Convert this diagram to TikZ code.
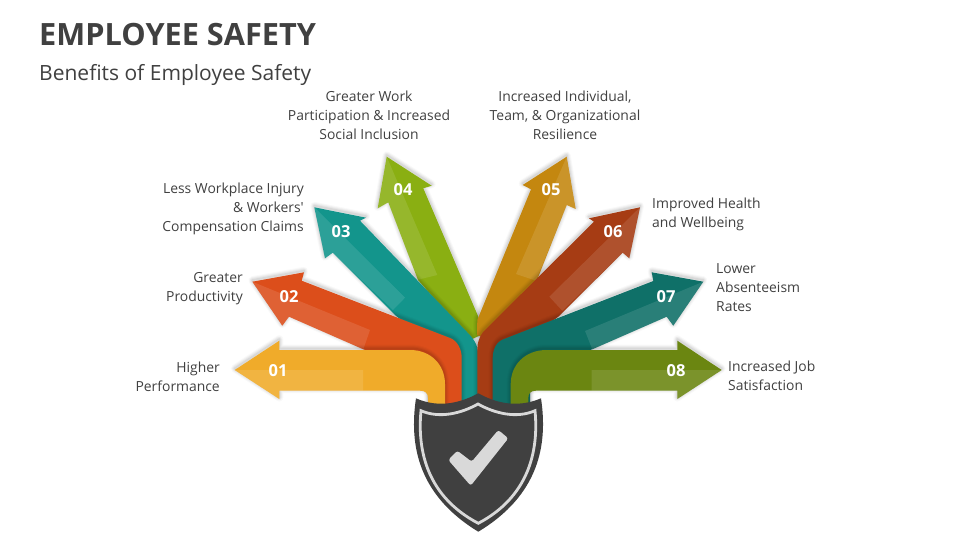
\documentclass[tikz,border=0pt]{standalone}
\usepackage{fontspec}
\setmainfont{Open Sans}
\newfontfamily\plainf{Open Sans}
\newcommand{\arw}[3]{%
  \foreach \w/\o in {8/.025,6/.035,4/.045,2/.06}{\draw[black,opacity=\o,line width=\w pt,line join=round,yshift=1.5pt] #1 -- cycle;}
  \fill[#3] #1 -- cycle;
  \fill[white,opacity=.11] #2 -- cycle;
}
\tikzset{
  lab/.style={inner sep=0pt,text=txt,font=\fontsize{13.9}{19}\selectfont},
  num/.style={inner sep=0pt,text=white,font=\fontsize{16.5}{18}\selectfont\bfseries},
}
\definecolor{txt}{HTML}{404040}
\definecolor{c1}{HTML}{F0AB2A}
\definecolor{c2}{HTML}{DC4E1B}
\definecolor{c3}{HTML}{13958C}
\definecolor{c4}{HTML}{8AAF12}
\definecolor{c5}{HTML}{C4870F}
\definecolor{c6}{HTML}{A63C14}
\definecolor{c7}{HTML}{0F7068}
\definecolor{c8}{HTML}{6B8611}
\definecolor{chk}{HTML}{D9D9D9}
\begin{document}
\begin{tikzpicture}[x=1pt,y=-1pt]
\useasboundingbox (0,0) rectangle (960,540);
\node[anchor=base west,inner sep=0pt,text=txt,font=\fontsize{30.7}{36}\selectfont\bfseries] (title) at (39,46) {EMPLOYEE SAFETY};
\node[anchor=base west,inner sep=0pt,text=txt,font=\fontsize{21}{24}\selectfont] (sub) at (39,80.5) {Benefits of Employee Safety};
% 04, 05
\arw{(386.7,156.7) -- (431.7,185.7) -- (423.3,188.3) -- (478.3,316.7) -- (481,335) -- (470,340) -- (418,280) -- (388.3,202.3) -- (377.7,208.3)}
    {(386.7,156.7) -- (437.3,275) -- (416.7,280) -- (388.3,202.3) -- (377.7,208.3)}{c4}
\arw{(566.7,156.7) -- (575.7,209) -- (566.7,205) -- (536.7,280.7) -- (490,340) -- (477,335) -- (477.3,320) -- (531,189.3) -- (522.7,185)}
    {(566.7,156.7) -- (575.7,209) -- (566.7,205) -- (536,280.7) -- (516,274)}{c5}
% 03, 06
\arw{(314.3,207.3) -- (366,217.7) -- (360,220.7) -- (466.7,331.7) .. controls (474,339) and (478,345) .. (478,354) -- (478,410) -- (450,410) -- (450,360) -- (395,315) -- (332.7,252.7) -- (325,258.3)}
    {(314.3,207.3) -- (405,297.7) -- (393,310) -- (332.7,252.7) -- (325,258.3)}{c3}
\arw{(640,207.3) -- (629.3,258.3) -- (622.7,252.7) -- (558.3,316.7) -- (500,360) -- (500,410) -- (477.3,410) -- (477.3,350) .. controls (477.3,343) and (479,337) .. (483.3,331.7) -- (594,221.7) -- (589,218.3)}
    {(640,207.3) -- (629.3,258.3) -- (622.7,252.7) -- (562.3,310.7) -- (549.3,296.7)}{c6}
% 02, 07
\arw{(252.3,281.7) -- (304,272.3) -- (301.7,280.7) -- (450,338) .. controls (458,341) and (461.7,350) .. (461.7,358) -- (461.7,410) -- (430,410) -- (430,370) -- (363.3,349.3) -- (289,316.7) -- (282.3,325.7)}
    {(252.3,281.7) -- (370,330) -- (363.3,349.3) -- (289,316.7) -- (282.3,325.7)}{c2}
\arw{(703.3,281.7) -- (673.3,325.7) -- (666.7,316.7) -- (592.3,349.3) -- (530,370) -- (530,410) -- (492.7,410) -- (492.7,358) .. controls (492.7,350) and (496,342) .. (503.3,339.3) -- (653.3,281) -- (651.7,272.3)}
    {(703.3,281.7) -- (673.3,325.7) -- (666.7,316.7) -- (592.3,349.3) -- (585,331)}{c7}
% 01, 08
\arw{(234.7,370) -- (279.3,340.7) -- (279.3,350) -- (410,350) .. controls (431,350) and (445,365) .. (445,384) -- (445,410) -- (428,410) -- (428,398) .. controls (428,393) and (425,390.7) .. (420,390.7) -- (279.3,390.7) -- (279.3,399)}
    {(234.7,370) -- (363,370) -- (363,390.7) -- (279.3,390.7) -- (279.3,399)}{c1}
\arw{(721.7,370) -- (677.3,340.7) -- (677.3,350) -- (546.7,350) .. controls (525,350) and (510.7,365) .. (510.7,384) -- (510.7,410) -- (528.3,410) -- (528.3,398) .. controls (528.3,393) and (531,390.7) .. (536,390.7) -- (677.3,390.7) -- (677.3,399)}
    {(721.7,370) -- (591.7,370) -- (591.7,390.7) -- (677.3,390.7) -- (677.3,399)}{c8}
% shield
\fill[txt] (478.3,393.3) .. controls (462,402) and (440,409) .. (416,398.3)
  .. controls (409,445) and (418,495) .. (478.3,531.7)
  .. controls (539,495) and (548,445) .. (541,398.3)
  .. controls (516,409) and (494,402) .. (478.3,393.3) -- cycle;
\draw[chk,line width=2.8pt] (478,404) .. controls (462,413) and (440,419) .. (421,410.7)
  .. controls (417,452) and (428,497) .. (478.3,523.3)
  .. controls (528,497) and (539,452) .. (535,410.7)
  .. controls (516,419) and (494,413) .. (478,404) -- cycle;
\fill[chk,rounded corners=2.5pt] (448.3,460) -- (457.3,450.7) -- (471.7,461.7) -- (498.3,430) -- (508.3,438.3) -- (470.7,485.7) -- cycle;
% numbers
\node[num] (n1) at (278,370.5) {01};
\node[num] (n2) at (289,297) {02};
\node[num] (n3) at (341,232) {03};
\node[num] (n4) at (403,190) {04};
\node[num] (n5) at (551,190) {05};
\node[num] (n6) at (613,232) {06};
\node[num] (n7) at (666,297) {07};
\node[num] (n8) at (676,370.5) {08};
% labels
\node[lab,anchor=east,align=right] (l1) at (220,376.5) {Higher\\Performance};
\node[lab,anchor=east,align=right] (l2) at (243,288.5) {Greater\\Productivity};
\node[lab,anchor=east,align=right] (l3) at (304,209) {Less Workplace Injury\\\& Workers{\plainf '}\\Compensation Claims};
\node[lab,align=center] (l4) at (369,115) {Greater Work\\Participation \& Increased\\Social Inclusion};
\node[lab,align=center] (l5) at (565,115) {Increased Individual,\\Team, \& Organizational\\Resilience};
\node[lab,anchor=west,align=left] (l6) at (652,214) {Improved Health\\and Wellbeing};
\node[lab,anchor=west,align=left] (l7) at (716,288) {Lower\\Absenteeism\\Rates};
\node[lab,anchor=west,align=left] (l8) at (728,375.5) {Increased Job\\Satisfaction};
\end{tikzpicture}
\end{document}
